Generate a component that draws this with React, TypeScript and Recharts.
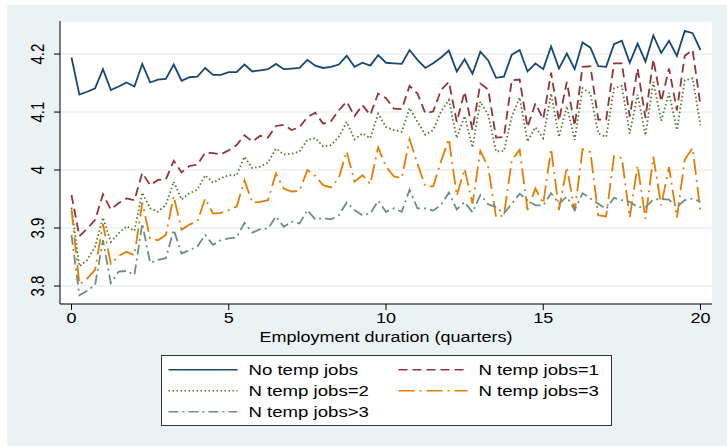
import { LineChart, Line, XAxis, YAxis, CartesianGrid, Legend } from 'recharts';

// employment duration in quarters
const quarters = [
  0, 0.25, 0.5, 0.75, 1, 1.25, 1.5, 1.75,
  2, 2.25, 2.5, 2.75, 3, 3.25, 3.5, 3.75,
  4, 4.25, 4.5, 4.75, 5, 5.25, 5.5, 5.75,
  6, 6.25, 6.5, 6.75, 7, 7.25, 7.5, 7.75,
  8, 8.25, 8.5, 8.75, 9, 9.25, 9.5, 9.75,
  10, 10.25, 10.5, 10.75, 11, 11.25, 11.5, 11.75,
  12, 12.25, 12.5, 12.75, 13, 13.25, 13.5, 13.75,
  14, 14.25, 14.5, 14.75, 15, 15.25, 15.5, 15.75,
  16, 16.25, 16.5, 16.75, 17, 17.25, 17.5, 17.75,
  18, 18.25, 18.5, 18.75, 19, 19.25, 19.5, 19.75,
  20,
];

const noTemp = [
  4.194, 4.130, 4.135, 4.141, 4.174, 4.138, 4.144, 4.151,
  4.144, 4.183, 4.151, 4.156, 4.157, 4.182, 4.154, 4.160,
  4.161, 4.176, 4.164, 4.164, 4.169, 4.169, 4.182, 4.170,
  4.172, 4.174, 4.183, 4.174, 4.175, 4.176, 4.190, 4.180,
  4.176, 4.178, 4.182, 4.197, 4.178, 4.185, 4.180, 4.198,
  4.185, 4.184, 4.183, 4.207, 4.190, 4.176, 4.184, 4.194,
  4.206, 4.170, 4.191, 4.166, 4.204, 4.189, 4.159, 4.161,
  4.199, 4.207, 4.170, 4.184, 4.174, 4.213, 4.175, 4.201,
  4.174, 4.220, 4.211, 4.179, 4.178, 4.217, 4.223, 4.185,
  4.218, 4.187, 4.232, 4.202, 4.223, 4.197, 4.240, 4.236,
  4.207,
];

const temp1 = [
  3.957, 3.886, 3.899, 3.914, 3.958, 3.932, 3.943, 3.951,
  3.948, 3.995, 3.974, 3.983, 3.984, 4.016, 3.996, 4.007,
  4.009, 4.030, 4.029, 4.027, 4.034, 4.043, 4.060, 4.049,
  4.059, 4.056, 4.076, 4.078, 4.069, 4.074, 4.091, 4.099,
  4.080, 4.084, 4.103, 4.118, 4.093, 4.112, 4.095, 4.132,
  4.124, 4.106, 4.105, 4.145, 4.132, 4.098, 4.101, 4.138,
  4.152, 4.083, 4.135, 4.069, 4.149, 4.139, 4.056, 4.057,
  4.155, 4.156, 4.074, 4.115, 4.088, 4.168, 4.085, 4.152,
  4.076, 4.178, 4.179, 4.087, 4.087, 4.184, 4.184, 4.092,
  4.175, 4.090, 4.191, 4.118, 4.175, 4.103, 4.197, 4.207,
  4.111,
];

const temp2 = [
  3.935, 3.834, 3.845, 3.868, 3.918, 3.876, 3.891, 3.903,
  3.895, 3.961, 3.934, 3.928, 3.940, 3.980, 3.949, 3.960,
  3.966, 3.991, 3.978, 3.986, 3.991, 3.991, 4.023, 4.003,
  4.006, 4.013, 4.037, 4.027, 4.028, 4.032, 4.052, 4.055,
  4.041, 4.043, 4.057, 4.083, 4.053, 4.063, 4.055, 4.097,
  4.074, 4.069, 4.066, 4.107, 4.083, 4.061, 4.069, 4.101,
  4.121, 4.055, 4.093, 4.039, 4.118, 4.095, 4.032, 4.033,
  4.092, 4.125, 4.049, 4.074, 4.055, 4.132, 4.057, 4.110,
  4.052, 4.141, 4.132, 4.063, 4.057, 4.141, 4.145, 4.063,
  4.130, 4.060, 4.152, 4.085, 4.133, 4.069, 4.155, 4.158,
  4.077,
];

const temp3 = [
  3.932, 3.803, 3.813, 3.828, 3.907, 3.838, 3.852, 3.859,
  3.853, 3.944, 3.882, 3.879, 3.888, 3.955, 3.897, 3.906,
  3.911, 3.951, 3.925, 3.926, 3.931, 3.937, 3.982, 3.944,
  3.945, 3.948, 3.994, 3.968, 3.963, 3.964, 4.000, 3.990,
  3.974, 3.970, 3.986, 4.032, 3.980, 3.991, 3.976, 4.039,
  4.006, 3.989, 3.986, 4.053, 4.011, 3.972, 3.972, 4.015,
  4.054, 3.956, 4.002, 3.942, 4.033, 4.005, 3.919, 3.922,
  4.017, 4.035, 3.931, 3.968, 3.942, 4.037, 3.931, 4.005,
  3.929, 4.036, 4.031, 3.922, 3.920, 4.024, 4.021, 3.918,
  4.008, 3.916, 4.023, 3.939, 4.005, 3.918, 4.018, 4.038,
  3.928,
];

const tempMore = [
  3.888, 3.784, 3.792, 3.802, 3.879, 3.805, 3.825, 3.826,
  3.819, 3.908, 3.840, 3.845, 3.848, 3.897, 3.856, 3.862,
  3.868, 3.888, 3.871, 3.879, 3.882, 3.884, 3.909, 3.892,
  3.898, 3.899, 3.920, 3.902, 3.911, 3.908, 3.931, 3.915,
  3.917, 3.915, 3.922, 3.944, 3.931, 3.922, 3.925, 3.947,
  3.928, 3.934, 3.928, 3.966, 3.934, 3.934, 3.930, 3.940,
  3.961, 3.932, 3.945, 3.927, 3.957, 3.941, 3.936, 3.925,
  3.942, 3.959, 3.948, 3.939, 3.939, 3.960, 3.942, 3.954,
  3.931, 3.960, 3.951, 3.942, 3.933, 3.952, 3.948, 3.945,
  3.936, 3.936, 3.949, 3.950, 3.949, 3.936, 3.948, 3.951,
  3.945,
];

const xTicks = [0, 5, 10, 15, 20];
const yTicks = [3.8, 3.9, 4, 4.1, 4.2];

const series = [
  { key: 'noTemp', name: 'No temp jobs', color: '#1a476f', dash: undefined },
  { key: 'temp1', name: 'N temp jobs=1', color: '#90353b', dash: '9 5' },
  { key: 'temp2', name: 'N temp jobs=2', color: '#55752f', dash: '1.5 2.5' },
  { key: 'temp3', name: 'N temp jobs=3', color: '#e37e00', dash: '16 5 2 5' },
  { key: 'tempMore', name: 'N temp jobs>3', color: '#6e8e84', dash: '10 4 2 4' },
];

const data = quarters.map((q, i) => ({
  q,
  noTemp: noTemp[i],
  temp1: temp1[i],
  temp2: temp2[i],
  temp3: temp3[i],
  tempMore: tempMore[i],
}));

const FONT = '"Liberation Sans", Arial, sans-serif';
const BG = '#eaf2f3';
const STRETCH = 1.2; // text in the original is a bit wide

const YTick = ({ y, payload }: any) => (
  <text
    transform={`translate(36.5, ${y}) scale(${STRETCH}, 1) rotate(-90)`}
    textAnchor="middle"
    fontSize={15}
    fontFamily={FONT}
    fill="#000"
  >
    {payload.value.toString()}
  </text>
);

const XTick = ({ x, payload }: any) => (
  <text
    transform={`translate(${x}, 318) scale(${STRETCH}, 1)`}
    textAnchor="middle"
    fontSize={15}
    fontFamily={FONT}
    fill="#000"
  >
    {payload.value}
  </text>
);

const XLabel = ({ viewBox }: any) => (
  <text
    transform={`translate(${viewBox.x + viewBox.width / 2}, ${viewBox.y + 38}) scale(${STRETCH}, 1)`}
    textAnchor="middle"
    fontSize={15}
    fontFamily={FONT}
    fill="#000"
  >
    Employment duration (quarters)
  </text>
);

const legendSlots = [
  { lx: 7.5, ty: 14.7 },
  { lx: 237.5, ty: 14.7 },
  { lx: 7.5, ty: 35.7 },
  { lx: 237.5, ty: 35.7 },
  { lx: 7.5, ty: 56.7 },
];

const StataLegend = () => (
  <svg width={452} height={72} style={{ display: 'block' }}>
    <rect x={0.5} y={0.5} width={450} height={70} fill="#fff" stroke="#333" strokeWidth={1} />
    {series.map((s, i) => {
      const slot = legendSlots[i];
      return (
        <g key={s.key}>
          <line
            x1={slot.lx}
            x2={slot.lx + 69}
            y1={slot.ty}
            y2={slot.ty}
            stroke={s.color}
            strokeWidth={1.6}
            strokeDasharray={s.dash}
          />
          <text
            transform={`translate(${slot.lx + 80}, ${slot.ty + 5.5}) scale(${STRETCH}, 1)`}
            fontSize={15.5}
            fontFamily={FONT}
            fill="#000"
          >
            {s.name}
          </text>
        </g>
      );
    })}
  </svg>
);

export default function App() {
  return (
    <div style={{ position: 'absolute', left: 0, top: 0, width: 727, height: 446, background: '#fff' }}>
      <div style={{ position: 'absolute', left: 7, top: 5, width: 720, height: 441, background: BG }}>
        <LineChart
          width={720}
          height={441}
          data={data}
          margin={{ top: 16, right: 15, bottom: 102, left: 8 }}
        >
          <CartesianGrid vertical={false} fill="#ffffff" stroke={BG} strokeWidth={1.6} />
          <XAxis
            dataKey="q"
            type="number"
            domain={[-0.366, 20.366]}
            ticks={xTicks}
            allowDataOverflow
            height={40}
            stroke="#000"
            tickSize={6}
            tick={<XTick />}
            label={<XLabel />}
          />
          <YAxis
            type="number"
            domain={[3.769, 4.257]}
            ticks={yTicks}
            allowDataOverflow
            width={45}
            stroke="#000"
            tickSize={6}
            tick={<YTick />}
          />
          <Legend
            layout="horizontal"
            verticalAlign="middle"
            content={() => <StataLegend />}
            wrapperStyle={{ left: 154, top: 350, width: 452, height: 72 }}
          />
          {series.map((s) => (
            <Line
              key={s.key}
              dataKey={s.key}
              name={s.name}
              type="linear"
              stroke={s.color}
              strokeWidth={1.8}
              strokeDasharray={s.dash}
              dot={false}
              isAnimationActive={false}
            />
          ))}
        </LineChart>
      </div>
    </div>
  );
}
